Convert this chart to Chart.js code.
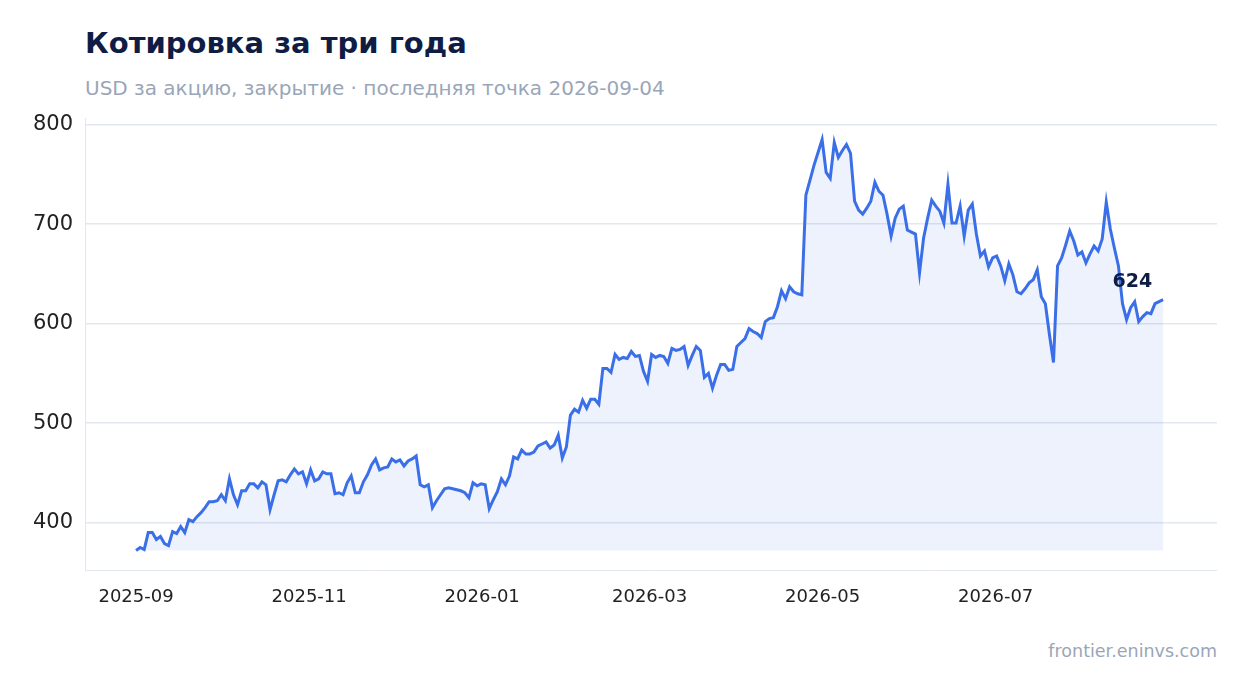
<!DOCTYPE html>
<html><head><meta charset="utf-8">
<script src="https://cdn.jsdelivr.net/npm/chart.js@4"></script>
<style>
body{margin:0;background:#fff;font-family:"DejaVu Sans",sans-serif;width:1247px;height:693px;position:relative;overflow:hidden}
#title{position:absolute;left:85px;top:26px;font-size:29px;font-weight:bold;color:#0f1d45}
#sub{position:absolute;left:85px;top:76px;font-size:20px;color:#9aa6b8}
#foot{position:absolute;right:30px;top:641px;font-size:17.5px;color:#9aa6b8}
#wrap{position:absolute;left:20px;top:94px;width:1197px;height:522px}
</style></head><body>
<div id="title">Котировка за три года</div>
<div id="sub">USD за акцию, закрытие · последняя точка 2026-09-04</div>
<div id="wrap"><canvas id="c"></canvas></div>
<div id="foot">frontier.eninvs.com</div>
<script>
const startDate = '2025-09-01';
const lastDay = 362; // days from startDate to the last close
const monthTicks = ['2025-09-01', '2025-11-01', '2026-01-01', '2026-03-01', '2026-05-01', '2026-07-01'];
const yTicks = [400, 500, 600, 700, 800];
const prices = [372,375,373,390,390,383,386,379,377,391,389,396,390,403,401,406,410,415,421,421,422,428,422,444,428,418,432,432,439,439,435,441,438,413,
428,442,443,441,448,454,449,451,439,453,442,444,451,449,449,429,430,428,440,447,430,430,441,448,458,464,453,455,456,464,461,463,457,462,464,467,
438,436,438,415,422,428,434,435,434,433,432,430,425,440,437,439,438,414,423,431,444,438,447,466,464,473,469,469,471,477,479,481,475,478,488,465,
476,508,514,511,523,515,524,524,519,555,555,551,569,564,566,565,572,567,568,552,542,569,566,568,567,560,575,573,574,577,558,568,577,573,546,550,
535,548,559,559,553,554,577,581,585,595,592,590,586,602,605,606,617,633,625,637,632,630,629,729,744,759,772,785,752,746,782,767,774,780,771,723,
714,710,716,723,742,733,729,710,688,706,715,718,694,692,690,651,686,706,724,718,713,701,740,701,701,718,688,714,720,690,668,673,657,666,668,658,
643,660,649,632,630,635,641,644,654,627,620,589,561,658,666,679,693,683,669,672,661,670,678,673,685,722,695,676,658,620,604,616,622,602,607,611,
610,620,622,624];

const DAY = 86400000;
const t0 = Date.parse(startDate);
const dayOf = s => Math.round((Date.parse(s) - t0) / DAY);
// closes are evenly spread over the trading period
const points = prices.map((v, i) => ({x: i * lastDay / (prices.length - 1), y: v}));
const tickDays = monthTicks.map(dayOf);
const minPrice = Math.min(...prices);

const lastLabel = {
  id: 'lastLabel',
  afterDatasetsDraw(chart) {
    const meta = chart.getDatasetMeta(0);
    const p = meta.data[meta.data.length - 1];
    const ctx = chart.ctx;
    ctx.save();
    ctx.font = 'bold 19px "DejaVu Sans"';
    ctx.fillStyle = '#0f1d45';
    ctx.textAlign = 'right';
    ctx.fillText(String(prices[prices.length - 1]), p.x - 11, p.y - 13);
    ctx.restore();
  }
};

new Chart(document.getElementById('c'), {
  type: 'line',
  data: {
    datasets: [{
      data: points,
      borderColor: '#3b6fe8',
      borderWidth: 3,
      backgroundColor: 'rgba(59,111,232,0.09)',
      fill: {value: minPrice},
      pointRadius: 0,
      tension: 0
    }]
  },
  options: {
    responsive: true,
    maintainAspectRatio: false,
    animation: false,
    plugins: {legend: {display: false}, tooltip: {enabled: false}},
    scales: {
      x: {
        type: 'linear',
        min: -18,
        max: 381,
        afterBuildTicks: s => { s.ticks = tickDays.map(v => ({value: v})); },
        ticks: {
          color: '#222',
          font: {size: 18, family: 'DejaVu Sans'},
          padding: 8,
          callback: v => monthTicks[tickDays.indexOf(v)].slice(0, 7)
        },
        grid: {display: false},
        border: {color: '#e3e7ef'}
      },
      y: {
        min: 352,
        max: 806,
        afterBuildTicks: s => { s.ticks = yTicks.map(v => ({value: v})); },
        afterFit: s => { s.width = 65; },
        ticks: {color: '#222', font: {size: 21, family: 'DejaVu Sans'}, padding: 12},
        grid: {color: '#e3e7ef', lineWidth: 1.5, drawTicks: false},
        border: {color: '#e3e7ef'}
      }
    }
  },
  plugins: [lastLabel]
});
</script>
</body></html>
